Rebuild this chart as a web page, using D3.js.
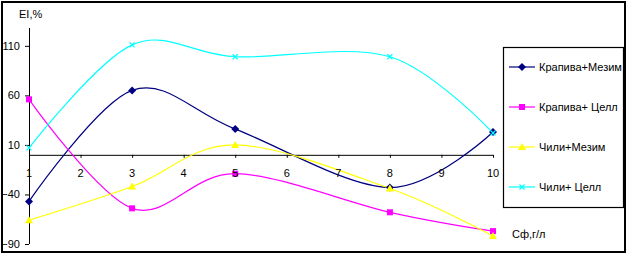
<!DOCTYPE html>
<html>
<head>
<meta charset="utf-8">
<script src="https://cdn.jsdelivr.net/npm/d3@7"></script>
<style>
body { margin: 0; background: #fff; }
svg text { font-family: "Liberation Sans Narrow", "Liberation Sans", Arial, sans-serif; font-size: 11px; fill: #000; }
</style>
</head>
<body>
<div id="chart"></div>
<script>
var W = 628, H = 255

// data
var xVals = [1, 3, 5, 8, 10]
var xTicks = [1, 2, 3, 4, 5, 6, 7, 8, 9, 10]
var yTicks = [-90, -40, 10, 60, 110]
var seriesNames = ["Крапива+Мезим", "Крапива+ Целл", "Чили+Мезим", "Чили+ Целл"]
var krapivaMezim = [-47, 65, 26, -33, 23]
var krapivaCell = [56, -54, -19, -58, -77]
var chiliMezim = [-66, -32, 10, -34, -82]
var chiliCell = [7, 111, 99, 99, 22]
var colors = ["#000080", "#ff00ff", "#ffff00", "#00ffff"]
var markers = ["diamond", "square", "triangle", "cross"]

var allSeries = [krapivaMezim, krapivaCell, chiliMezim, chiliCell]

var svg = d3.select("#chart").append("svg")
    .attr("width", W)
    .attr("height", H)

// outer frame
svg.append("rect")
    .attr("x", 2).attr("y", 2)
    .attr("width", 623).attr("height", 250)
    .attr("fill", "none").attr("stroke", "#000").attr("stroke-width", 2)

var xScale = d3.scaleLinear().domain([1, 10]).range([29, 493])
var yScale = d3.scaleLinear().domain([-90, 128]).range([244, 28])

// y axis
var yAxis = d3.axisLeft(yScale).tickValues(yTicks).tickSize(4).tickPadding(5)
var yG = svg.append("g")
    .attr("transform", "translate(" + xScale(1) + ",0)")
    .call(yAxis)
yG.select(".domain").attr("d", "M0.5," + yScale.range()[0] + "V" + yScale.range()[1])
yG.selectAll("text").style("font-size", "11px").style("font-family", null)

// x axis at zero
var xAxis = d3.axisBottom(xScale).tickValues(xTicks).tickSize(3).tickFormat("")
var xG = svg.append("g")
    .attr("transform", "translate(0," + yScale(0) + ")")
    .call(xAxis)
xG.select(".domain").attr("d", "M" + xScale(1) + ",0.5H" + xScale(10))

// lines
var line = d3.line()
    .x(function(d, i) { return xScale(xVals[i]) })
    .y(function(d) { return yScale(d) })
    .curve(d3.curveCatmullRom.alpha(0))

svg.selectAll(".series")
    .data(allSeries)
    .enter()
    .append("path")
    .attr("class", "series")
    .attr("d", line)
    .attr("fill", "none")
    .attr("stroke", function(d, i) { return colors[i] })
    .attr("stroke-width", 1.2)

function drawMarker(g, type, color, x, y) {
    if (type == "diamond") {
        g.append("path").attr("d", "M" + x + "," + (y - 4) + "L" + (x + 4) + "," + y + "L" + x + "," + (y + 4) + "L" + (x - 4) + "," + y + "Z")
            .attr("fill", color)
    } else if (type == "square") {
        g.append("rect").attr("x", x - 3).attr("y", y - 3).attr("width", 6).attr("height", 6).attr("fill", color)
    } else if (type == "triangle") {
        g.append("path").attr("d", "M" + x + "," + (y - 4) + "L" + (x + 4) + "," + (y + 3) + "L" + (x - 4) + "," + (y + 3) + "Z")
            .attr("fill", color)
    } else {
        g.append("path").attr("d", "M" + (x - 2.5) + "," + (y - 2.5) + "L" + (x + 2.5) + "," + (y + 2.5) + "M" + (x + 2.5) + "," + (y - 2.5) + "L" + (x - 2.5) + "," + (y + 2.5))
            .attr("stroke", color).attr("stroke-width", 1.2)
    }
}

var markG = svg.append("g")
allSeries.forEach(function(s, si) {
    s.forEach(function(v, i) {
        drawMarker(markG, markers[si], colors[si], xScale(xVals[i]), yScale(v))
    })
})

// x tick labels (drawn over the markers like the original)
svg.selectAll(".xlab")
    .data(xTicks)
    .enter()
    .append("text")
    .attr("class", "xlab")
    .attr("x", function(d) { return xScale(d) })
    .attr("y", yScale(0) + 22)
    .attr("text-anchor", "middle")
    .text(function(d) { return d })

// axis titles
svg.append("text").attr("x", 19).attr("y", 18).text("EI,%")
svg.append("text").attr("x", 512).attr("y", 238).text("Сф,г/л")

// legend
var leg = svg.append("g").attr("transform", "translate(503,47)")
leg.append("rect")
    .attr("x", 0.5).attr("y", 0.5)
    .attr("width", 120).attr("height", 160)
    .attr("fill", "#fff").attr("stroke", "#000").attr("stroke-width", 1.2)

seriesNames.forEach(function(name, i) {
    var y = 20 + i * 40
    leg.append("line")
        .attr("x1", 6).attr("x2", 32).attr("y1", y).attr("y2", y)
        .attr("stroke", colors[i]).attr("stroke-width", 1.2)
    drawMarker(leg, markers[i], colors[i], 19, y)
    leg.append("text").attr("x", 36).attr("y", y + 4).text(name)
})
</script>
</body>
</html>
